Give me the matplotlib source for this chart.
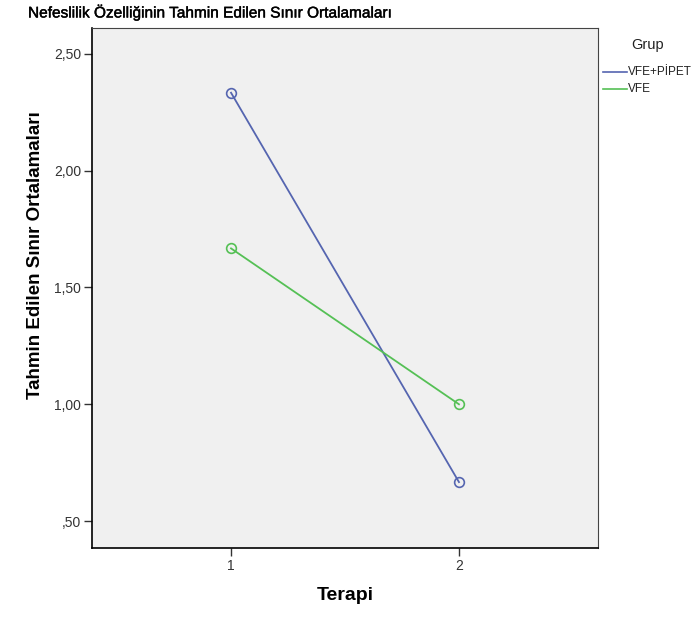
import matplotlib.pyplot as plt
import matplotlib.patheffects as pe

terapi = [1, 2]
vfe_pipet = [2.333, 0.667]
vfe = [1.667, 1.0]
y_ticks = [0.5, 1.0, 1.5, 2.0, 2.5]
y_tick_labels = [",50", "1,00", "1,50", "2,00", "2,50"]

plt.rcParams['font.family'] = ['Liberation Sans', 'DejaVu Sans']

fig = plt.figure(figsize=(6.97, 6.17), dpi=100)
ax = fig.add_axes([92 / 697, 69 / 617, 506 / 697, 520 / 617])
ax.set_facecolor('#f0f0f0')

blue = '#5565b0'
green = '#55c055'
ax.plot(terapi, vfe_pipet, color=blue, lw=1.3, marker='o', ms=7, mfc='none', mec=blue, mew=1.2)
ax.plot(terapi, vfe, color=green, lw=1.3, marker='o', ms=7, mfc='none', mec=green, mew=1.2)

ax.set_xlim(0.39, 2.61)
ax.set_ylim(0.385, 2.61)
ax.set_xticks(terapi)
ax.set_xticklabels([str(t) for t in terapi])
ax.set_yticks(y_ticks)
ax.set_yticklabels(y_tick_labels)
ax.tick_params(direction='out', length=6, width=1, labelsize=10, colors='#333333', pad=2)

for side in ['left', 'bottom']:
    ax.spines[side].set_color('black')
    ax.spines[side].set_linewidth(1.2)
for side in ['top', 'right']:
    ax.spines[side].set_color('#444444')
    ax.spines[side].set_linewidth(0.8)

ax.set_xlabel('Terapi', fontsize=14, fontweight='bold', va='center')
ax.xaxis.set_label_coords(0.5, (548 - 596) / 520)
ax.set_ylabel('Tahmin Edilen Sınır Ortalamaları', fontsize=13.5, fontweight='bold', va='center')
ax.yaxis.set_label_coords((36 - 92) / 506, (548 - 255) / 520)

fig.text(28 / 697, 1 - 13 / 617, 'Nefeslilik Özelliğinin Tahmin Edilen Sınır Ortalamaları',
         fontsize=11.1, va='center', ha='left',
         path_effects=[pe.withStroke(linewidth=0.3, foreground='black')])

# legend
fig.text(631 / 697, 1 - 45 / 617, 'Grup', fontsize=10.5, va='center', ha='left', color='#222222')
fig.lines.append(plt.Line2D([603 / 697, 627 / 697], [1 - 72 / 617] * 2, color=blue, lw=1.2,
                            transform=fig.transFigure))
fig.lines.append(plt.Line2D([603 / 697, 627 / 697], [1 - 89 / 617] * 2, color=green, lw=1.2,
                            transform=fig.transFigure))
fig.text(628 / 697, 1 - 72 / 617, 'VFE+PİPET', fontsize=8.5, va='center', ha='left', color='#222222')
fig.text(628 / 697, 1 - 89 / 617, 'VFE', fontsize=8.5, va='center', ha='left', color='#222222')

fig.savefig('out.png', dpi=100)
